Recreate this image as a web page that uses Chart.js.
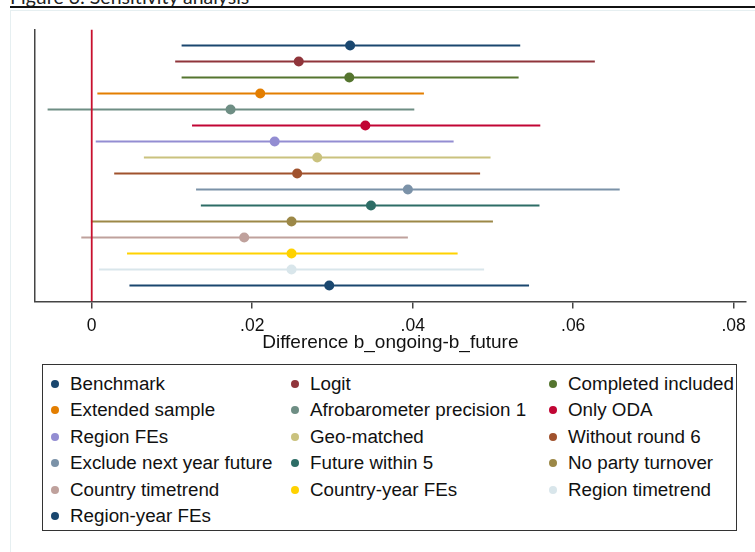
<!DOCTYPE html>
<html>
<head>
<meta charset="utf-8">
<script src="https://cdn.jsdelivr.net/npm/chart.js@4"></script>
<style>
  body { margin: 0; background: #fff; }
  #page { position: relative; width: 755px; height: 552px; overflow: hidden; }
  #frame { position: absolute; left: 10px; top: 10px; width: 800px; height: 600px; border: 1px solid #e6eff1; }
  #fig-title { position: absolute; left: 10px; top: -15px; font-family: Lato, sans-serif; font-size: 19.5px; color: #222; white-space: nowrap; }
  #rule { position: absolute; left: 10px; top: 6px; width: 760px; height: 1.5px; background: #111; }
  #chart { position: absolute; left: 0; top: 0; }
  #legend { position: absolute; left: 42px; top: 364px; width: 695px; height: 167px; border: 1.5px solid #333; box-sizing: border-box; }
  .item { position: absolute; font-family: "Liberation Sans", Arial, sans-serif; font-size: 18.8px; color: #111; white-space: nowrap; line-height: 20px; }
  .dot { position: absolute; width: 8px; height: 8px; border-radius: 50%; }
</style>
</head>
<body>
<div id="page">
  <div id="frame"></div>
  <div id="fig-title">Figure 3: Sensitivity analysis</div>
  <div id="rule"></div>
  <canvas id="chart" width="755" height="360"></canvas>
  <div id="legend"></div>
</div>
<script>
// data gelesen aus dem Bild
const labels = ['Benchmark', 'Logit', 'Completed included', 'Extended sample', 'Afrobarometer precision 1',
  'Only ODA', 'Region FEs', 'Geo-matched', 'Without round 6', 'Exclude next year future',
  'Future within 5', 'No party turnover', 'Country timetrend', 'Country-year FEs', 'Region timetrend', 'Region-year FEs'];
const estimate = [0.0322, 0.0258, 0.0321, 0.0210, 0.0173, 0.0341, 0.0228, 0.0281,
  0.0256, 0.0394, 0.0348, 0.0249, 0.0190, 0.0249, 0.0249, 0.0296];
const ciLow = [0.0112, 0.0104, 0.0112, 0.0007, -0.0055, 0.0125, 0.0005, 0.0065,
  0.0028, 0.0130, 0.0136, -0.0001, -0.0013, 0.0044, 0.0009, 0.0047];
const ciHigh = [0.0534, 0.0627, 0.0532, 0.0414, 0.0402, 0.0559, 0.0451, 0.0497,
  0.0484, 0.0658, 0.0558, 0.0500, 0.0394, 0.0456, 0.0489, 0.0545];
const colors = ['#1a476f', '#90353b', '#55752f', '#e37e00', '#6e8e84', '#c10534', '#938dd2', '#cac27e',
  '#a0522d', '#7b92a8', '#2d6d66', '#9c8847', '#bfa19c', '#ffd200', '#d9e6eb', '#1a476f'];
const xTicks = [0, 0.02, 0.04, 0.06, 0.08];
const xTickLabels = ['0', '.02', '.04', '.06', '.08'];
const refLine = 0;

const xMin = -0.00707, xMax = 0.0815;
const nRows = labels.length;

// datasets: ref line first (drawn on top), then points, then CI lines
const datasets = [];
datasets.push({
  data: [{ x: refLine, y: 0 }, { x: refLine, y: nRows + 1 }],
  showLine: true, borderColor: '#c8102e', borderWidth: 1.8, pointRadius: 0
});
labels.forEach((name, i) => {
  datasets.push({
    label: name,
    data: [{ x: estimate[i], y: i + 1 }],
    backgroundColor: colors[i], borderColor: colors[i],
    pointRadius: 5, borderWidth: 0
  });
});
labels.forEach((name, i) => {
  datasets.push({
    data: [{ x: ciLow[i], y: i + 1 }, { x: ciHigh[i], y: i + 1 }],
    showLine: true, borderColor: colors[i], borderWidth: 2, pointRadius: 0
  });
});

new Chart(document.getElementById('chart'), {
  type: 'scatter',
  data: { datasets },
  options: {
    responsive: false,
    animation: false,
    devicePixelRatio: 1,
    layout: { padding: { left: 35, top: 29.5, right: 9.3, bottom: 5.9 } },
    plugins: { legend: { display: false }, tooltip: { enabled: false } },
    scales: {
      x: {
        type: 'linear', min: xMin, max: xMax,
        afterBuildTicks: s => { s.ticks = xTicks.map(v => ({ value: v })); },
        afterFit: s => { s.height = 52.6; },
        ticks: {
          callback: (v) => xTickLabels[xTicks.indexOf(v)] ?? '',
          font: { family: '"Liberation Sans", Arial', size: 17.5 },
          color: '#111', padding: 7, maxRotation: 0, autoSkip: false
        },
        grid: { drawOnChartArea: false, drawTicks: true, tickLength: 7, color: '#444', tickColor: '#444', lineWidth: 1.5 },
        border: { display: true, color: '#444', width: 1.5 },
        title: {
          display: true, text: 'Difference b_ongoing-b_future',
          font: { family: '"Liberation Sans", Arial', size: 19 },
          color: '#111', padding: 0
        }
      },
      y: {
        type: 'linear', min: 0, max: nRows + 1, reverse: true,
        afterFit: s => { s.width = 0; },
        ticks: { display: false },
        grid: { drawOnChartArea: false, drawTicks: false },
        border: { display: true, color: '#444', width: 1.5 }
      }
    }
  }
});

// legend in 3 columns
const legend = document.getElementById('legend');
const colDot = [12, 252, 510];
const colText = [27, 267, 525];
labels.forEach((name, i) => {
  const r = Math.floor(i / 3), c = i % 3;
  const cy = 18.7 + r * 26.5;
  const dot = document.createElement('div');
  dot.className = 'dot';
  dot.style.left = (colDot[c] - 4) + 'px';
  dot.style.top = (cy - 4) + 'px';
  dot.style.background = colors[i];
  legend.appendChild(dot);
  const t = document.createElement('div');
  t.className = 'item';
  t.textContent = name;
  t.style.left = colText[c] + 'px';
  t.style.top = (cy - 10) + 'px';
  legend.appendChild(t);
});
</script>
</body>
</html>
